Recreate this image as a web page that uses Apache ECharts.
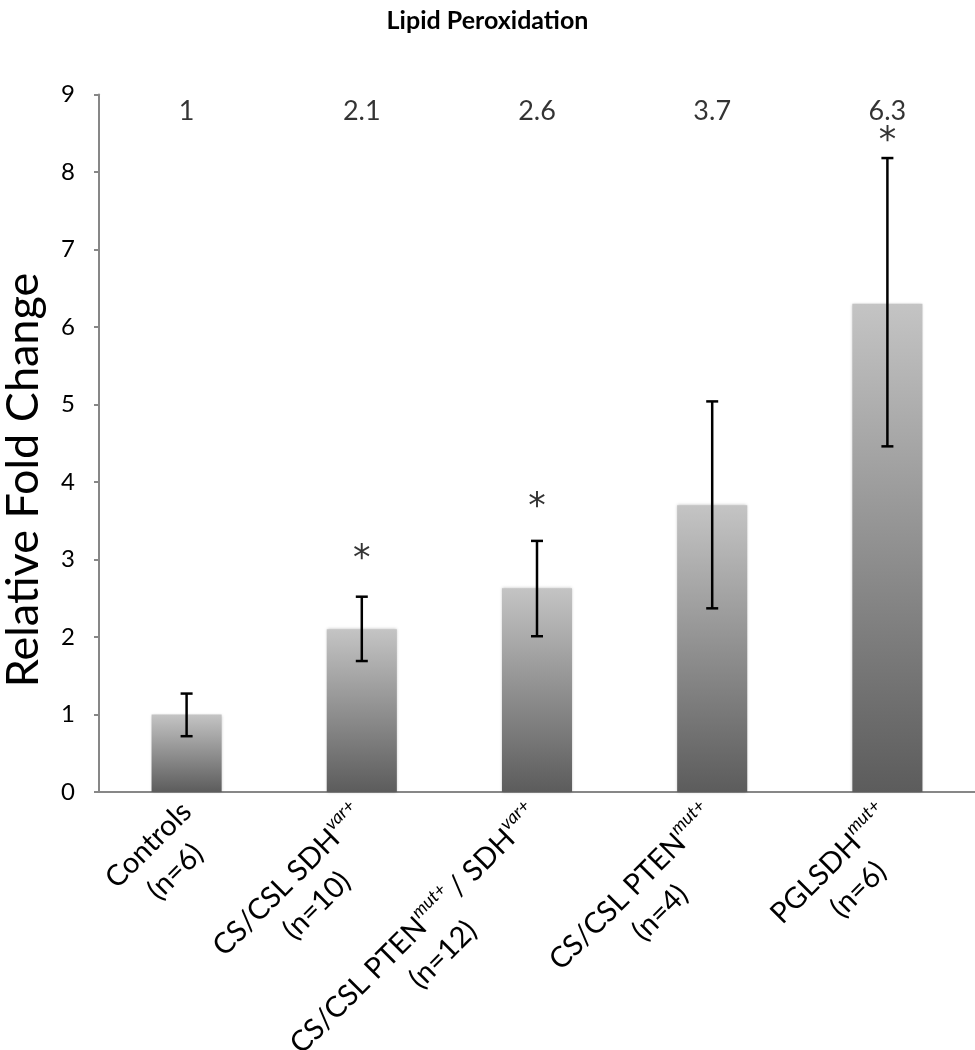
<!DOCTYPE html>
<html><head><meta charset="utf-8">
<script src="https://cdn.jsdelivr.net/npm/echarts@6/dist/echarts.min.js"></script>
<style>html,body{margin:0;padding:0;background:#fff}#c{width:975px;height:1050px}</style>
</head><body><div id="c"></div>
<script>
// ---- data ----
const categories = [
  '{m|Controls}\n{m|(n=6)}',
  '{m|CS/CSL SDH}{s|var+}\n{m|(n=10)}',
  '{m|CS/CSL PTEN}{s|mut+}{m|/ SDH}{s|var+}\n{m|(n=12)}',
  '{m|CS/CSL PTEN}{s|mut+}\n{m|(n=4)}',
  '{m|PGLSDH}{s|mut+}\n{m|(n=6)}'
];
const means = [1.0, 2.1, 2.63, 3.7, 6.3];
const errLow = [0.72, 1.69, 2.01, 2.37, 4.46];
const errHigh = [1.27, 2.52, 3.24, 5.04, 8.18];
const valueLabels = ['1', '2.1', '2.6', '3.7', '6.3'];
const valueLabelY = 8.78;
const starIndex = [1, 2, 4];
const starY = [3.0, 3.67, 8.39];
const yMin = 0, yMax = 9, yStep = 1;
const titleText = 'Lipid Peroxidation';
const yName = 'Relative Fold Change';

const FONT = 'Lato';
const chart = echarts.init(document.getElementById('c'));

const errData = means.map((m, i) => [i, errLow[i], errHigh[i]]);
const valData = means.map((m, i) => [i, valueLabelY]);
const starData = starIndex.map((ci, k) => [ci, starY[k]]);

chart.setOption({
  animation: false,
  backgroundColor: '#fff',
  title: {
    text: titleText, left: 'center', top: 3,
    textStyle: { fontFamily: FONT, fontWeight: 'bold', fontSize: 25, color: '#000' }
  },
  grid: { left: 99, right: 0, top: 94.5, bottom: 258, outerBoundsMode: 'none', containLabel: false },
  xAxis: {
    type: 'category',
    data: categories,
    axisLine: { lineStyle: { color: '#878787', width: 2 } },
    axisTick: { show: false },
    axisLabel: {
      interval: 0, rotate: 45, margin: 15, padding: [38, 0, 0, 0],
      color: '#000', fontFamily: FONT, fontSize: 29, lineHeight: 38,
      rich: {
        m: { fontFamily: FONT, fontSize: 29, lineHeight: 38, align: 'center', color: '#000' },
        s: { fontFamily: FONT, fontSize: 18, fontStyle: 'italic', lineHeight: 14, verticalAlign: 'top', align: 'center', color: '#000', padding: [0, 4, 0, 0] }
      }
    }
  },
  yAxis: {
    type: 'value', min: yMin, max: yMax, interval: yStep,
    axisLine: { show: true, lineStyle: { color: '#878787', width: 2 } },
    axisTick: { show: true, length: 5, lineStyle: { color: '#878787', width: 2 } },
    axisLabel: { color: '#000', fontFamily: FONT, fontSize: 24, margin: 24 },
    splitLine: { show: false }
  },
  graphic: [{
    type: 'text', x: 23, y: 480, rotation: Math.PI / 2,
    style: { text: yName, fontFamily: FONT, fontSize: 45, fill: '#000', align: 'center', verticalAlign: 'middle' }
  }],
  series: [
    {
      type: 'bar', data: means, barWidth: '40%',
      itemStyle: {
        color: new echarts.graphic.LinearGradient(0, 0, 0, 1, [
          { offset: 0, color: '#c4c4c4' }, { offset: 1, color: '#5c5c5c' }
        ]),
        shadowBlur: 3, shadowColor: 'rgba(0,0,0,0.25)'
      },
      z: 2
    },
    {
      type: 'custom', data: errData, z: 5,
      renderItem: function (params, api) {
        const x = api.value(0);
        const lo = api.coord([x, api.value(1)]);
        const hi = api.coord([x, api.value(2)]);
        const w = 6;
        const st = { stroke: '#000', lineWidth: 2.5 };
        return {
          type: 'group', children: [
            { type: 'line', shape: { x1: hi[0], y1: hi[1], x2: lo[0], y2: lo[1] }, style: st },
            { type: 'line', shape: { x1: hi[0] - w, y1: hi[1], x2: hi[0] + w, y2: hi[1] }, style: st },
            { type: 'line', shape: { x1: lo[0] - w, y1: lo[1], x2: lo[0] + w, y2: lo[1] }, style: st }
          ]
        };
      }
    },
    {
      type: 'scatter', data: valData, symbol: 'circle', symbolSize: 2, itemStyle: { color: 'rgba(0,0,0,0)' }, z: 6,
      label: {
        show: true, position: 'inside', color: '#000', fontFamily: FONT, fontSize: 27,
        formatter: p => valueLabels[p.dataIndex]
      }
    },
    {
      type: 'scatter', data: starData, symbol: 'circle', symbolSize: 2, itemStyle: { color: 'rgba(0,0,0,0)' }, z: 6,
      label: {
        show: true, position: 'inside', color: '#000', fontFamily: 'DejaVu Sans', fontSize: 35,
        formatter: '*'
      }
    }
  ]
});
</script>
</body></html>
